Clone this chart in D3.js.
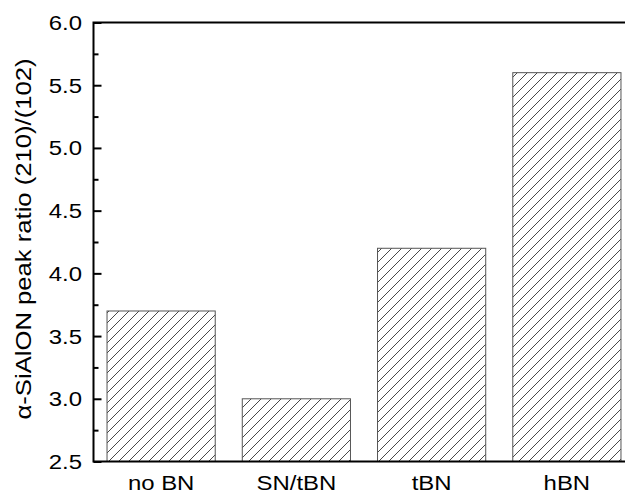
<!DOCTYPE html>
<meta charset="utf-8">
<style>
  body { margin: 0; background: #fff; }
  text { font-family: "Liberation Sans", Arial, sans-serif; fill: #000; }
</style>
<body>
</body>
<script src="https://d3js.org/d3.v7.min.js"></script>
<script>

// chart data
var categories = ["no BN", "SN/tBN", "tBN", "hBN"];
var peakRatio = [3.7, 3.0, 4.2, 5.6];
var majorTicks = [2.5, 3.0, 3.5, 4.0, 4.5, 5.0, 5.5, 6.0];
var minorTicks = [2.75, 3.25, 3.75, 4.25, 4.75, 5.25, 5.75];
var yTitle = "\u03b1-SiAlON peak ratio (210)/(102)";

var width = 625, height = 494;
var plot = {left: 93.5, right: 634.5, top: 22.5, bottom: 461.5};
var stretch = 1.14; // text in the picture is a bit wider than Arial

var svg = d3.select("body").append("svg")
  .attr("width", width)
  .attr("height", height);

var x = d3.scaleBand()
  .domain(categories)
  .range([plot.left, plot.right])
  .paddingInner(0.2)
  .paddingOuter(0.1);

var y = d3.scaleLinear()
  .domain([2.5, 6.0])
  .range([plot.bottom, plot.top]);

// hatch pattern
var pat = svg.append("defs").append("pattern")
  .attr("id", "hatch")
  .attr("patternUnits", "userSpaceOnUse")
  .attr("width", 10)
  .attr("height", 10);
pat.append("rect").attr("width", 10).attr("height", 10).attr("fill", "#fff");
pat.append("path")
  .attr("d", "M-1,1 l2,-2 M0,10 l10,-10 M9,11 l2,-2")
  .attr("stroke", "#333")
  .attr("stroke-width", 0.9);

// bars
svg.append("g")
  .selectAll("rect")
  .data(categories)
  .enter()
  .append("rect")
  .attr("x", function(d) { return x(d); })
  .attr("y", function(d, i) { return y(peakRatio[i]); })
  .attr("width", x.bandwidth())
  .attr("height", function(d, i) { return y(2.5) - y(peakRatio[i]); })
  .attr("fill", "url(#hatch)")
  .attr("stroke", "#555")
  .attr("stroke-width", 1);

// y axis, ticks inside
var yAxis = d3.axisRight(y)
  .tickValues(majorTicks)
  .tickSize(8)
  .tickFormat("");
var gy = svg.append("g")
  .attr("transform", "translate(" + plot.left + ",0)")
  .call(yAxis);
gy.select(".domain").remove();
gy.selectAll(".tick line").attr("stroke", "#000").attr("stroke-width", 2);

var yMinor = d3.axisRight(y)
  .tickValues(minorTicks)
  .tickSize(5)
  .tickFormat("");
var gm = svg.append("g")
  .attr("transform", "translate(" + plot.left + ",0)")
  .call(yMinor);
gm.select(".domain").remove();
gm.selectAll(".tick line").attr("stroke", "#000").attr("stroke-width", 2);

// y tick labels
svg.append("g")
  .selectAll("text")
  .data(majorTicks)
  .enter()
  .append("text")
  .attr("transform", function(d) { return "translate(82," + y(d) + ") scale(" + stretch + ",1)"; })
  .attr("text-anchor", "end")
  .attr("dy", "0.36em")
  .style("font-size", "21px")
  .text(function(d) { return d3.format(".1f")(d); });

// frame
svg.append("path")
  .attr("d", "M" + plot.right + "," + plot.top + "H" + plot.left + "V" + plot.bottom + "H" + plot.right)
  .attr("fill", "none")
  .attr("stroke", "#000")
  .attr("stroke-width", 2);

// x labels
svg.append("g")
  .selectAll("text")
  .data(categories)
  .enter()
  .append("text")
  .attr("transform", function(d) { return "translate(" + (x(d) + x.bandwidth() / 2) + ",490) scale(" + stretch + ",1)"; })
  .attr("text-anchor", "middle")
  .style("font-size", "21px")
  .text(function(d) { return d; });

// y title
svg.append("text")
  .attr("transform", "translate(31," + ((plot.top + plot.bottom) / 2 - 3) + ") rotate(-90) scale(" + stretch + ",1)")
  .attr("text-anchor", "middle")
  .style("font-size", "22.5px")
  .text(yTitle);

</script>
